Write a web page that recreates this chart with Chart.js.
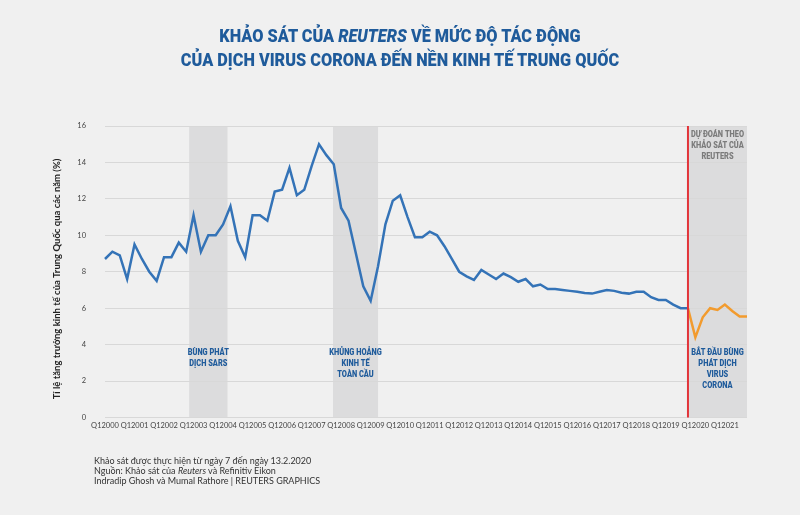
<!DOCTYPE html>
<html><head><meta charset="utf-8">
<script src="https://cdn.jsdelivr.net/npm/chart.js@4/dist/chart.umd.min.js"></script>
<style>
html,body{margin:0;padding:0;background:#f0f0f0;}
#wrap{position:relative;width:800px;height:515px;overflow:hidden;background:#f0f0f0;}
#c{position:absolute;left:0;top:0;}
.title{position:absolute;left:0;width:800px;text-align:center;color:#1f5b9b;font-family:Roboto,"DejaVu Sans",sans-serif;font-weight:900;font-size:18.5px;line-height:24px;transform:scaleX(0.88);transform-origin:400px 0;white-space:nowrap;}
.foot{position:absolute;left:94px;top:456px;font-family:Lato,"DejaVu Sans",sans-serif;font-size:9px;line-height:10px;color:#333;white-space:nowrap;}
</style></head>
<body><div id="wrap">
<canvas id="c" width="800" height="515"></canvas>
<div class="title" style="top:24px">KHẢO SÁT CỦA <i>REUTERS</i> VỀ MỨC ĐỘ TÁC ĐỘNG<br>CỦA DỊCH VIRUS CORONA ĐẾN NỀN KINH TẾ TRUNG QUỐC</div>
<div class="foot">Khảo sát được thực hiện từ ngày 7 đến ngày 13.2.2020<br>Nguồn: Khảo sát của <i>Reuters</i> và Refinitiv Eikon<br>Indradip Ghosh và Mumal Rathore | REUTERS GRAPHICS</div>
</div>
<script>
// ---- data ----
const years = [2000,2001,2002,2003,2004,2005,2006,2007,2008,2009,2010,2011,2012,2013,2014,2015,2016,2017,2018,2019,2020,2021];
const quarterNames = ["Q1","Q2","Q3","Q4"];
// actual y/y growth, Q1 2000 .. Q4 2019
const actualGrowth = [
 8.7, 9.1, 8.9, 7.6,   9.5, 8.7, 8.0, 7.5,   8.8, 8.8, 9.6, 9.1,
 11.1, 9.1, 10.0, 10.0, 10.6, 11.6, 9.7, 8.8, 11.1, 11.1, 10.8, 12.4,
 12.5, 13.7, 12.2, 12.5, 13.8, 15.0, 14.4, 13.9, 11.5, 10.8, 9.0, 7.2,
 6.4, 8.3, 10.6, 11.9, 12.2, 11.0, 9.9, 9.9,  10.2, 10.0, 9.4, 8.7,
 8.0, 7.75, 7.55, 8.1, 7.85, 7.6, 7.9, 7.7,  7.45, 7.6, 7.2, 7.3,
 7.05, 7.05, 7.0, 6.95, 6.9, 6.83, 6.8, 6.9, 7.0, 6.95, 6.85, 6.8,
 6.9, 6.9, 6.6, 6.45, 6.45, 6.2, 6.0, 6.0
];
// Reuters poll forecast, Q4 2019 .. Q4 2021
const forecastGrowth = [6.0, 4.4, 5.5, 6.0, 5.9, 6.2, 5.85, 5.55, 5.55];
const forecastStart = 79;
const yTicks = [0,2,4,6,8,10,12,14,16];
const periods = [
 {from: 11.4, to: 16.6, lines: ["BÙNG PHÁT","DỊCH SARS"]},
 {from: 30.9, to: 37.0, lines: ["KHỦNG HOẢNG","KINH TẾ","TOÀN CẦU"]},
 {from: 79, to: 87, lines: ["BẮT ĐẦU BÙNG","PHÁT DỊCH","VIRUS","CORONA"]}
];
const forecastNote = ["DỰ ĐOÁN THEO","KHẢO SÁT CỦA","REUTERS"];
const yTitle = "Tỉ lệ tăng trưởng kinh tế của Trung Quốc qua các năm (%)";

// ---- build ----
const labels = [];
years.forEach(y => quarterNames.forEach(q => labels.push(q + y)));
const actualData = labels.map((_, i) => i < actualGrowth.length ? actualGrowth[i] : null);
const forecastData = labels.map((_, i) => (i >= forecastStart && i - forecastStart < forecastGrowth.length) ? forecastGrowth[i - forecastStart] : null);

const BLUE_TXT = '#1f5b9b';
const shadePlugin = {
 id: 'shade',
 beforeDraw(chart) {
  const {ctx, chartArea, scales} = chart;
  ctx.save();
  ctx.fillStyle = '#dcdcdd';
  periods.forEach(p => {
   const x1 = scales.x.getPixelForValue(p.from), x2 = scales.x.getPixelForValue(p.to);
   ctx.fillRect(x1, chartArea.top, x2 - x1, chartArea.bottom - chartArea.top);
  });
  ctx.restore();
 },
 afterDatasetsDraw(chart) {
  const {ctx, chartArea, scales} = chart;
  ctx.save();
  const xr = scales.x.getPixelForValue(forecastStart);
  ctx.strokeStyle = '#e2343a'; ctx.lineWidth = 2;
  ctx.beginPath(); ctx.moveTo(xr, chartArea.top); ctx.lineTo(xr, chartArea.bottom); ctx.stroke();
  const drawLines = (lines, cx, y0, color) => {
   ctx.fillStyle = color;
   ctx.font = '900 9.5px Roboto, "DejaVu Sans", sans-serif';
   ctx.textAlign = 'center'; ctx.textBaseline = 'middle';
   lines.forEach((t, i) => {
    ctx.save(); ctx.translate(cx, y0 + i * 11); ctx.scale(0.78, 1);
    ctx.fillText(t, 0, 0); ctx.restore();
   });
  };
  const yAnn = scales.y.getPixelForValue(3.55);
  periods.forEach(p => {
   const cx = scales.x.getPixelForValue((p.from + p.to) / 2);
   drawLines(p.lines, cx, yAnn, BLUE_TXT);
  });
  const p3 = periods[2];
  drawLines(forecastNote, scales.x.getPixelForValue((p3.from + p3.to) / 2), scales.y.getPixelForValue(15.5), '#7b7b7b');
  ctx.save();
  ctx.translate(57, 279); ctx.rotate(-Math.PI / 2);
  ctx.font = 'bold 9.5px Lato, "DejaVu Sans", sans-serif';
  ctx.fillStyle = '#222'; ctx.textAlign = 'center'; ctx.textBaseline = 'middle';
  ctx.fillText(yTitle, 0, 0);
  ctx.restore();
  ctx.restore();
 }
};

new Chart(document.getElementById('c'), {
 type: 'line',
 data: {
  labels,
  datasets: [
   {data: actualData, borderColor: '#3473b7', borderWidth: 2.5, pointRadius: 0, tension: 0, spanGaps: false},
   {data: forecastData, borderColor: '#f29b2e', borderWidth: 2.5, pointRadius: 0, tension: 0, spanGaps: false}
  ]
 },
 options: {
  responsive: false, animation: false,
  layout: {padding: {left: 0, right: 53, top: 126, bottom: 0}},
  plugins: {legend: {display: false}, tooltip: {enabled: false}, title: {display: false}},
  scales: {
   x: {
    type: 'category', offset: false,
    grid: {display: false, drawTicks: false}, border: {display: false},
    ticks: {autoSkip: false, maxRotation: 0, minRotation: 0, padding: 4, color: '#444',
     font: {family: 'Lato', size: 7.5},
     callback: (v, i) => (i % 4 === 0 ? labels[i] : '')},
    afterFit: s => { s.height = 97.5; }
   },
   y: {
    min: 0, max: 16,
    afterBuildTicks: s => { s.ticks = yTicks.map(v => ({value: v})); },
    grid: {color: '#d8d8d8', lineWidth: 1, drawTicks: false}, border: {display: false},
    ticks: {padding: 19, color: '#444', font: {family: 'Lato', size: 7.5}},
    afterFit: s => { s.width = 105; }
   }
  }
 },
 plugins: [shadePlugin]
});
</script>
</body></html>
